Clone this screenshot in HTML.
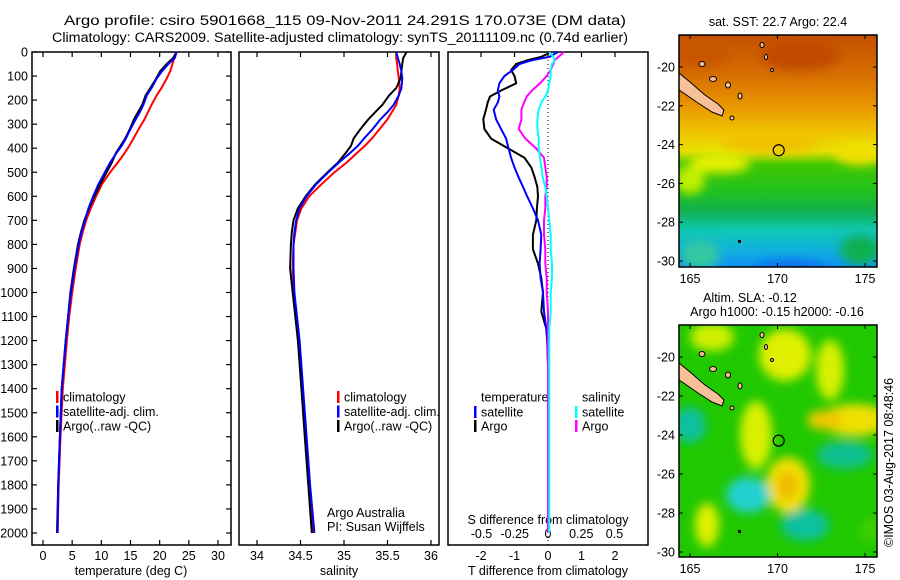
<!DOCTYPE html>
<html><head><meta charset="utf-8"><style>
body{margin:0;background:#fff;}
svg{display:block;font-family:"Liberation Sans",sans-serif;}
</style></head><body>
<svg id="fig" width="900" height="580" viewBox="0 0 900 580">
<defs>
<clipPath id="c1"><rect x="679" y="35" width="198" height="232"/></clipPath>
<clipPath id="c2"><rect x="679" y="325" width="198" height="232"/></clipPath>
<filter id="bl" x="-50%" y="-50%" width="200%" height="200%"><feGaussianBlur stdDeviation="5"/></filter>
<linearGradient id="sst" x1="0" y1="0" x2="0" y2="1">
<stop offset="0" stop-color="#c45000"/><stop offset="0.18" stop-color="#d87000"/>
<stop offset="0.3" stop-color="#e89400"/><stop offset="0.42" stop-color="#f0c400"/>
<stop offset="0.5" stop-color="#e8e000"/><stop offset="0.56" stop-color="#40c800"/>
<stop offset="0.68" stop-color="#20c020"/><stop offset="0.76" stop-color="#10b050"/>
<stop offset="0.84" stop-color="#10c8b0"/><stop offset="0.93" stop-color="#10b0e0"/>
<stop offset="1" stop-color="#1090f0"/></linearGradient>
</defs>
<g font-size="13.5" text-anchor="middle" fill="#000">
<text x="345" y="25" textLength="562" lengthAdjust="spacingAndGlyphs">Argo profile: csiro 5901668_115 09-Nov-2011 24.291S 170.073E (DM data)</text>
<text x="340" y="42" textLength="576" lengthAdjust="spacingAndGlyphs">Climatology: CARS2009. Satellite-adjusted climatology: synTS_20111109.nc (0.74d earlier)</text>
</g>
<g id="frames"></g>
<g id="series"></g>
<g id="maps"></g>
</svg>
<script>
// ---- profile data ----
const depths = [0,25,50,80,110,150,180,220,250,280,320,360,390,420,460,500,550,600,650,700,750,800,900,1000,1100,1200,1400,1600,1800,2000];
const tempClim = [22.8,22.5,22.2,21.8,21.2,20.3,19.5,18.6,18.0,17.4,16.4,15.5,14.8,14.0,12.8,11.5,10.1,9.1,8.2,7.4,6.8,6.3,5.6,5.0,4.5,4.1,3.4,3.0,2.7,2.5];
const tempSat = [22.9,22.6,21.5,20.4,19.5,18.6,17.8,17.2,16.6,15.9,15.0,14.2,13.5,12.6,11.5,10.6,9.5,8.6,7.8,7.2,6.6,6.1,5.4,4.8,4.3,3.9,3.2,2.9,2.6,2.5];
const tempArgo = [22.9,22.3,21.2,20.1,19.4,18.4,17.6,17.0,16.3,15.6,14.9,14.1,13.3,12.5,11.8,10.9,9.8,8.8,7.9,7.1,6.5,6.0,5.3,4.7,4.3,3.9,3.2,2.9,2.6,2.4];
const salClim = [35.60,35.60,35.61,35.62,35.63,35.64,35.63,35.60,35.55,35.50,35.41,35.32,35.24,35.15,35.03,34.89,34.74,34.60,34.51,34.46,34.44,34.42,34.41,34.42,34.45,34.48,34.52,34.56,34.60,34.64];
const salSat = [35.60,35.62,35.64,35.66,35.67,35.66,35.63,35.57,35.50,35.42,35.33,35.23,35.16,35.07,34.94,34.82,34.68,34.57,34.49,34.45,34.43,34.42,34.42,34.43,34.46,34.49,34.53,34.57,34.61,34.66];
const salArgo = [35.72,35.68,35.67,35.66,35.65,35.60,35.52,35.44,35.36,35.28,35.19,35.11,35.08,35.02,34.93,34.81,34.67,34.56,34.47,34.42,34.40,34.39,34.38,34.41,34.44,34.47,34.51,34.55,34.59,34.63];
const diffDepths = [0,20,35,50,75,100,130,160,185,210,240,280,320,360,400,440,480,520,560,600,650,700,760,820,880,940,1000,1080,1150,1200,1300,1500,1700,2000];
const tDiffArgo = [0.1,-0.2,-0.63,-0.95,-1.1,-1.0,-0.95,-1.4,-1.73,-1.8,-1.85,-1.93,-1.9,-1.7,-1.2,-0.7,-0.5,-0.4,-0.32,-0.3,-0.33,-0.35,-0.45,-0.45,-0.3,-0.2,-0.15,-0.2,-0.05,-0.02,0,0,0,0];
const tDiffSat = [0.3,0.05,-0.5,-0.85,-1.05,-1.3,-1.45,-1.5,-1.45,-1.5,-1.62,-1.55,-1.4,-1.25,-1.18,-1.1,-1.0,-0.88,-0.75,-0.62,-0.45,-0.3,-0.2,-0.22,-0.25,-0.22,-0.15,-0.12,-0.05,-0.02,0,0,0,0];
const sDiffArgo = [0.12,0.08,0.05,0.04,0.02,-0.01,-0.06,-0.12,-0.16,-0.18,-0.2,-0.2,-0.22,-0.17,-0.09,-0.03,-0.02,-0.01,-0.01,-0.02,-0.02,-0.03,-0.03,-0.02,-0.02,-0.01,-0.01,0,0,0,0,0,0,0];
const sDiffSat = [0.01,0.04,0.05,0.03,0.02,0.02,0.01,0,-0.02,-0.05,-0.07,-0.08,-0.08,-0.07,-0.07,-0.06,-0.05,-0.04,-0.02,-0.01,0,0.01,0.02,0.02,0.03,0.03,0.02,0.02,0.01,0.01,0.01,0.01,0.01,0.01];
const depthTicks = [0,100,200,300,400,500,600,700,800,900,1000,1100,1200,1300,1400,1500,1600,1700,1800,1900,2000];
const tempTicks = [0,5,10,15,20,25,30];
const salTicks = [34,34.5,35,35.5,36];
const tDiffTicks = [-2,-1,0,1,2];
const sDiffTicks = [-0.5,-0.25,0,0.25,0.5];
const sDiffTickLabels = ["-0.5","-0.25","0","0.25","0.5"];
const lonTicks = [165,170,175];
const latTicks = [-20,-22,-24,-26,-28,-30];

const NS = "http://www.w3.org/2000/svg";
const yD = d => 52 + d * 0.2405;
const xT = t => 43 + t * 5.833;
const xS = s => 257 + (s - 34) * 87;
const xTd = t => 548 + t * 33.5;
const xSd = s => 548 + s * 133;
const BOT = 545, TOP = 52;

function mk(parent, tag, attrs, txt) {
  const e = document.createElementNS(NS, tag);
  for (const k in attrs) e.setAttribute(k, attrs[k]);
  if (txt !== undefined) e.textContent = txt;
  parent.appendChild(e);
  return e;
}
const frames = document.getElementById('frames');
const series = document.getElementById('series');
const maps = document.getElementById('maps');

const panels = [[32,231,'temperature-panel'],[239,439,'salinity-panel'],[448,648,'difference-panel']];
panels.forEach(p => {
  const r = mk(frames, 'rect', {x:p[0], y:TOP, width:p[1]-p[0], height:BOT-TOP, fill:'#fff', stroke:'#000', 'stroke-width':1.5});
  
  
});
depthTicks.forEach(d => {
  const y = yD(d);
  mk(frames, 'line', {x1:32, x2:37, y1:y, y2:y, stroke:'#000', 'stroke-width':1.2});
  mk(frames, 'line', {x1:226, x2:231, y1:y, y2:y, stroke:'#000', 'stroke-width':1.2});
  const t = mk(frames, 'text', {x:28, y:y+4.5, 'font-size':12.5, 'text-anchor':'end'}, String(d));
  
  
});
function xticks(vals, fx, labels, ly, inside) {
  vals.forEach((v, i) => {
    const x = fx(v);
    mk(frames, 'line', {x1:x, x2:x, y1:TOP, y2:TOP+5, stroke:'#000', 'stroke-width':1.2});
    if (!inside) mk(frames, 'line', {x1:x, x2:x, y1:BOT, y2:BOT-5, stroke:'#000', 'stroke-width':1.2});
    const t = mk(frames, 'text', {x:x, y:ly, 'font-size':12.5, 'text-anchor':'middle'}, labels[i]);
    
    
  });
}
xticks(tempTicks, xT, tempTicks.map(String), 560, false);
xticks(salTicks, xS, salTicks.map(String), 560, false);
xticks(tDiffTicks, xTd, tDiffTicks.map(String), 560, true);
sDiffTicks.forEach((v, i) => {
  const t = mk(frames, 'text', {x:xSd(v), y:538, 'font-size':12.5, 'text-anchor':'middle'}, sDiffTickLabels[i]);
  
  
});
mk(frames, 'line', {x1:548, x2:548, y1:TOP, y2:BOT, stroke:'#000', 'stroke-width':1, 'stroke-dasharray':'1,3'});

function axTitle(x, y, s, name) {
  const t = mk(frames, 'text', {x:x, y:y, 'font-size':12.5, 'text-anchor':'middle'}, s);
  
  
}
axTitle(131, 575, 'temperature (deg C)', 'temperature-axis-title');
axTitle(339, 575, 'salinity', 'salinity-axis-title');
axTitle(548, 575, 'T difference from climatology', 't-diff-axis-title');
axTitle(548, 524, 'S difference from climatology', 's-diff-axis-title');
let t1 = mk(frames, 'text', {x:327, y:517, 'font-size':12.5}, 'Argo Australia');


let t2 = mk(frames, 'text', {x:327, y:531, 'font-size':12.5}, 'PI: Susan Wijffels');



function legend(x, y, color, label) {
  if (color) mk(frames, 'rect', {x:x, y:y-6, width:2.5, height:12, fill:color});
  const t = mk(frames, 'text', {x:x+7, y:y+4.5, 'font-size':12.5}, label);
  
  
}
[[56,'#f00','climatology'],[56,'#00f','satellite-adj. clim.'],[56,'#000','Argo(..raw -QC)']].forEach((l,i)=>legend(l[0],397+i*14.5,l[1],l[2]));
[[337,'#f00','climatology'],[337,'#00f','satellite-adj. clim.'],[337,'#000','Argo(..raw -QC)']].forEach((l,i)=>legend(l[0],397+i*14.5,l[1],l[2]));
legend(474, 397, null, 'temperature');
legend(474, 412, '#00f', 'satellite');
legend(474, 426, '#000', 'Argo');
legend(575, 397, null, 'salinity');
legend(575, 412, '#0ff', 'satellite');
legend(575, 426, '#f0f', 'Argo');

function line(ds, vals, fx, color, name) {
  const pts = ds.map((d, i) => fx(vals[i]).toFixed(1) + ',' + yD(d).toFixed(1)).join(' ');
  const p = mk(series, 'polyline', {points:pts, fill:'none', stroke:color, 'stroke-width':2, 'stroke-linejoin':'round'});
  
  
}
line(depths, tempClim, xT, '#f00', 'temp-climatology-line');
line(depths, tempArgo, xT, '#000', 'temp-argo-line');
line(depths, tempSat, xT, '#00f', 'temp-satellite-line');
line(depths, salClim, xS, '#f00', 'sal-climatology-line');
line(depths, salArgo, xS, '#000', 'sal-argo-line');
line(depths, salSat, xS, '#00f', 'sal-satellite-line');
line(diffDepths, tDiffArgo, xTd, '#000', 't-diff-argo-line');
line(diffDepths, tDiffSat, xTd, '#00f', 't-diff-satellite-line');
line(diffDepths, sDiffArgo, xSd, '#f0f', 's-diff-argo-line');
line(diffDepths, sDiffSat, xSd, '#0ff', 's-diff-satellite-line');

// ---- maps ----
const lonX = lon => 690 + (lon - 165) * 17.5;
function drawMap(top, latY, name, clip, blobs, base) {
  const g = mk(maps, 'g', {});
  
  
  const inner = mk(g, 'g', {'clip-path':'url(#' + clip + ')'});
  mk(inner, 'rect', {x:679, y:top, width:198, height:232, fill:base});
  const bg = mk(inner, 'g', {filter:'url(#bl)'});
  blobs.forEach(b => mk(bg, 'ellipse', {cx:b[0], cy:top+b[1], rx:b[2], ry:b[3], fill:b[4]}));
  const o = top - 35;
  mk(inner, 'polygon', {points:`679,${73+o} 690,${82+o} 705,${95+o} 718,${104+o} 724,${110+o} 722,${116+o} 712,${112+o} 698,${103+o} 685,${94+o} 679,${90+o}`, fill:'#f8c098', stroke:'#000', 'stroke-width':1});
  [[702,64,3,2.5],[713,79,3.5,2.5],[728,85,2.5,3],[740,96,2,3],[762,45,2,2.5],[766,57,1.5,2.5],[772,70,1.5,1.5],[732,118,2,2]].forEach(s =>
    mk(inner, 'ellipse', {cx:s[0], cy:s[1]+o, rx:s[2], ry:s[3], fill:'#f8c098', stroke:'#000', 'stroke-width':1}));
  mk(inner, 'circle', {cx:lonX(170.07), cy:latY(-24.29), r:5.5, fill:'none', stroke:'#000', 'stroke-width':1.2});
  mk(inner, 'rect', {x:738, y:top+205, width:3, height:3, fill:'#000'});
  mk(g, 'rect', {x:679, y:top, width:198, height:232, fill:'none', stroke:'#000', 'stroke-width':1.5});
  lonTicks.forEach(l => {
    const x = lonX(l);
    mk(g, 'line', {x1:x, x2:x, y1:top, y2:top+4, stroke:'#000'});
    mk(g, 'line', {x1:x, x2:x, y1:top+232, y2:top+228, stroke:'#000'});
    const t = mk(g, 'text', {x:x, y:top+248, 'font-size':12.5, 'text-anchor':'middle'}, String(l));
    
    
  });
  latTicks.forEach(l => {
    const y = latY(l);
    mk(g, 'line', {x1:679, x2:683, y1:y, y2:y, stroke:'#000'});
    mk(g, 'line', {x1:877, x2:873, y1:y, y2:y, stroke:'#000'});
    const t = mk(g, 'text', {x:675, y:y+4.5, 'font-size':12.5, 'text-anchor':'end'}, String(l));
    
    
  });
}
drawMap(35, l => 67 + (-20 - l) * 19.4, 'sst-map', 'c1', [
  [690,145,15,14,'#c0f000'],[720,128,30,10,'#e8f000'],[860,118,25,12,'#f0e000'],
  [770,108,50,10,'#f0c000'],[800,20,40,15,'#c04800'],[700,20,30,12,'#c85400'],
  [790,240,40,15,'#1070f0'],[700,220,20,15,'#30c8a0'],[860,215,20,15,'#10b050']
], 'url(#sst)');
drawMap(325, l => 357 + (-20 - l) * 19.5, 'sla-map', 'c2', [
  [712,12,22,14,'#d0f000'],[785,30,26,26,'#e0f000'],[830,45,14,30,'#d8f000'],
  [855,95,34,16,'#f0e000'],[825,95,18,10,'#f0c800'],[756,110,16,34,'#d8f000'],
  [788,160,22,28,'#f0e000'],[787,160,10,14,'#f0b800'],[707,200,12,22,'#e0f000'],
  [690,100,16,18,'#10c0a0'],[748,170,22,18,'#20d0d0'],[805,200,24,16,'#10c0a0'],
  [845,130,28,14,'#10c090'],[870,205,10,12,'#40d000']
], '#20c800');
const mt = [[778,26,'sat. SST: 22.7 Argo: 22.4','sst-map-title'],[750,302,'Altim. SLA: -0.12','sla-map-title'],[777,316,'Argo h1000: -0.15 h2000: -0.16','argo-height-title']];
mt.forEach(m => {
  const t = mk(maps, 'text', {x:m[0], y:m[1], 'font-size':12.5, 'text-anchor':'middle'}, m[2]);
  
  
});
const stamp = mk(maps, 'text', {x:0, y:0, 'font-size':12.5, transform:'translate(893,547) rotate(-90)'}, '©IMOS 03-Aug-2017 08:48:46');


</script>
</body></html>
